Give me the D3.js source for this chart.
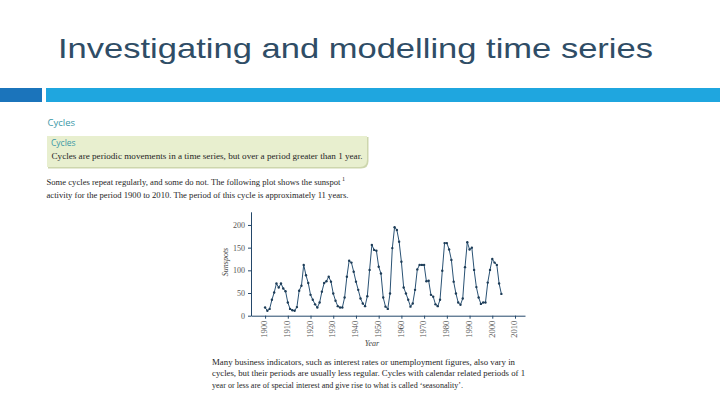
<!DOCTYPE html>
<html>
<head>
<meta charset="utf-8">
<script src="https://cdn.jsdelivr.net/npm/d3@7"></script>
<style>
  body { margin: 0; background: #fff; }
  svg { display: block; }
</style>
</head>
<body>
<svg></svg>
<script>
// yearly sunspot numbers
let years = d3.range(1900, 2005)
let sunspots = [
  18, 11, 15, 35, 51, 71, 62, 71, 60, 54,
  29, 15, 12, 11, 19, 55, 66, 112, 89, 72,
  46, 35, 25, 18, 29, 53, 72, 76, 86, 75,
  49, 33, 21, 18, 18, 40, 86, 121, 117, 97,
  75, 57, 38, 27, 21, 43, 101, 156, 145, 143,
  108, 93, 40, 20, 15, 49, 149, 195, 189, 163,
  119, 62, 49, 35, 20, 27, 57, 102, 112, 112,
  112, 76, 77, 46, 42, 25, 21, 35, 99, 160,
  160, 146, 123, 75, 49, 29, 24, 38, 107, 162,
  146, 150, 101, 63, 40, 26, 29, 29, 73, 101,
  125, 117, 112, 71, 48
]
let xTicks = d3.range(1900, 2011, 10)
let yTicks = [0, 50, 100, 150, 200]

let width = 720
let height = 405

let svg = d3.select('svg')
            .attr('width', width)
            .attr('height', height)

// slide title and bar
svg.append('text')
   .attr('x', 58)
   .attr('y', 58)
   .attr('textLength', 595)
   .attr('lengthAdjust', 'spacingAndGlyphs')
   .style('font-family', 'Liberation Sans, Arial, sans-serif')
   .style('font-size', '28px')
   .style('fill', '#2f4d66')
   .text('Investigating and modelling time series')

svg.append('rect').attr('x', 0).attr('y', 88).attr('width', 42).attr('height', 14).attr('fill', '#1b74bb')
svg.append('rect').attr('x', 46).attr('y', 88).attr('width', 674).attr('height', 14).attr('fill', '#1fa6df')

// text block above the plot
let serif = 'Liberation Serif, Times New Roman, serif'
let sans = 'Open Sans, Noto Sans, sans-serif'

svg.append('text')
   .attr('x', 47.5).attr('y', 126)
   .style('font-family', sans).style('font-size', '9.5px').style('fill', '#3a98a6')
   .text('Cycles')

// box with a soft shadow on the lower right
svg.append('path')
   .attr('d', 'M48,137 H368.5 V161 Q368.5,168.5 361,168.5 H48 Z')
   .attr('fill', '#cdd6ad')
svg.append('path')
   .attr('d', 'M47,136 H367 V160 Q367,167 360,167 H47 Z')
   .attr('fill', '#e8efcf')

svg.append('text')
   .attr('x', 51).attr('y', 146)
   .style('font-family', sans).style('font-size', '8.5px').style('fill', '#3a98a6')
   .text('Cycles')

let writeLine = (x, y, len, txt) => {
  svg.append('text')
     .attr('x', x).attr('y', y)
     .attr('textLength', len)
     .attr('lengthAdjust', 'spacingAndGlyphs')
     .style('font-family', serif).style('font-size', '8.5px').style('fill', '#262626')
     .text(txt)
}

writeLine(51.5, 158.5, 311, 'Cycles are periodic movements in a time series, but over a period greater than 1 year.')
writeLine(46.5, 185, 294, 'Some cycles repeat regularly, and some do not. The following plot shows the sunspot')
svg.append('text')
   .attr('x', 342).attr('y', 181)
   .style('font-family', serif).style('font-size', '6px').style('fill', '#262626')
   .text('1')
writeLine(46.5, 197.5, 302, 'activity for the period 1900 to 2010. The period of this cycle is approximately 11 years.')

// the plot
let xScale = d3.scaleLinear()
               .domain([1893.8, 2014.4])
               .range([251, 525])
let yScale = d3.scaleLinear()
               .domain([0, 229])
               .range([315.7, 211.8])

let xAxis = d3.axisBottom(xScale)
              .tickValues(xTicks)
              .tickFormat(d3.format('d'))
              .tickSize(3)
              .tickSizeOuter(0)
let gx = svg.append('g')
            .attr('transform', 'translate(0,' + yScale(0) + ')')
            .call(xAxis)
gx.select('.domain').attr('stroke', '#24486a')
gx.selectAll('.tick line').attr('stroke', '#24486a')
gx.selectAll('.tick text')
  .attr('transform', 'rotate(-90)')
  .attr('x', -5)
  .attr('y', -1)
  .attr('dy', '0.32em')
  .style('text-anchor', 'end')
  .style('font-family', serif)
  .style('font-size', '8.5px')
  .style('fill', '#555')

let yAxis = d3.axisLeft(yScale)
              .tickValues(yTicks)
              .tickSize(3)
              .tickSizeOuter(0)
let gy = svg.append('g')
            .attr('transform', 'translate(' + xScale.range()[0] + ',0)')
            .call(yAxis)
gy.select('.domain').attr('stroke', '#24486a')
gy.selectAll('.tick line').attr('stroke', '#24486a')
gy.selectAll('.tick text')
  .attr('x', -6)
  .style('font-family', serif)
  .style('font-size', '8px')
  .style('fill', '#555')

svg.append('text')
   .attr('x', 372).attr('y', 345.5)
   .style('font-family', serif).style('font-style', 'italic').style('font-size', '8px').style('fill', '#444')
   .style('text-anchor', 'middle')
   .text('Year')

svg.append('text')
   .attr('transform', 'translate(228,262) rotate(-90)')
   .style('font-family', serif).style('font-style', 'italic').style('font-size', '8px').style('fill', '#444')
   .style('text-anchor', 'middle')
   .text('Sunspots')

let points = years.map((y, i) => ({year: y, value: sunspots[i]}))

let line = d3.line()
             .x(d => xScale(d.year))
             .y(d => yScale(d.value))

svg.append('path')
   .datum(points)
   .attr('d', line)
   .attr('fill', 'none')
   .attr('stroke', '#2a5274')
   .attr('stroke-width', 1)

svg.selectAll('circle')
   .data(points)
   .enter()
   .append('circle')
   .attr('cx', d => xScale(d.year))
   .attr('cy', d => yScale(d.value))
   .attr('r', 1.2)
   .attr('fill', '#1d3c57')

// text below the plot
writeLine(212, 364.5, 303, 'Many business indicators, such as interest rates or unemployment figures, also vary in')
writeLine(212, 376, 313, 'cycles, but their periods are usually less regular. Cycles with calendar related periods of 1')
writeLine(212, 387.5, 251, 'year or less are of special interest and give rise to what is called \u2018seasonality\u2019.')
</script>
</body>
</html>
